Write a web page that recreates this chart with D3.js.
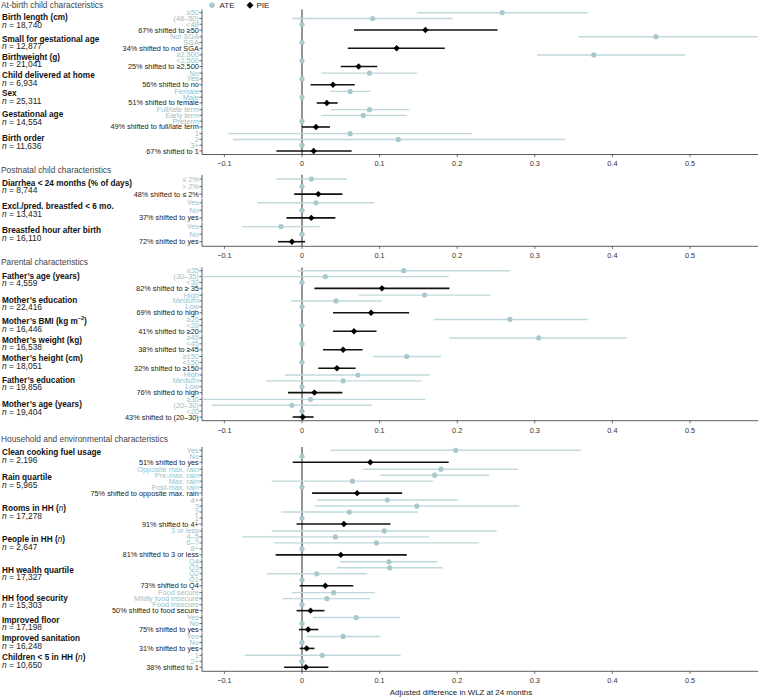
<!DOCTYPE html>
<html><head><meta charset="utf-8">
<script src="https://cdn.jsdelivr.net/npm/d3@7"></script>
<style>body{margin:0;background:#fff}svg{display:block;font-family:"Liberation Sans",Arial,Helvetica,sans-serif}</style>
</head><body><svg id="c" width="758" height="697"></svg>
<script>
// ---------- DATA ----------
const panelTitles = ["At-birth child characteristics","Postnatal child characteristics","Parental characteristics","Household and environmental characteristics"];
const groupPanel = [0,0,0,0,0,0,0, 1,1,1, 2,2,2,2,2,2,2, 3,3,3,3,3,3,3,3,3];
const groupNames = ["Birth length (cm)","Small for gestational age","Birthweight (g)","Child delivered at home","Sex","Gestational age","Birth order",
 "Diarrhea < 24 months (% of days)","Excl./pred. breastfed < 6 mo.","Breastfed hour after birth",
 "Father’s age (years)","Mother’s education","Mother’s BMI (kg m^{−2})","Mother’s weight (kg)","Mother’s height (cm)","Father’s education","Mother’s age (years)",
 "Clean cooking fuel usage","Rain quartile","Rooms in HH ({n})","People in HH ({n})","HH wealth quartile","HH food security","Improved floor","Improved sanitation","Children < 5 in HH ({n})"];
const groupN = ["18,740","12,877","21,041","6,934","25,311","14,554","11,636","8,744","13,431","16,110","4,559","22,416","16,446","16,538","18,051","19,856","19,404","2,196","5,965","17,278","2,647","17,327","15,303","17,198","16,248","10,650"];
const categories = [
 ["≥50","(48–50)","<48"],["Not SGA","SGA"],["≥2,500","<2,500"],["No","Yes"],["Female","Male"],["Full/late term","Early term","Preterm"],["1","2","3+"],
 ["≤ 2%","> 2%"],["Yes","No"],["Yes","No"],
 ["≥35","(30–35)","<30"],["High","Medium","Low"],["≥20","<20"],["≥45","<45"],["≥150","<150"],["High","Medium","Low"],["≥30","(20–30)","<20"],
 ["Yes","No"],["Opposite max. rain","Pre-max. rain","Max. rain","Post-max. rain"],["4+","3","2","1"],["3 or less","4–5","6–7","8+"],["Q4","Q3","Q2","Q1"],["Food secure","Mildly food insecure","Food insecure"],["Yes","No"],["Yes","No"],["1","2+"]];
const ateEst = [
 [0.258,0.091,0],[0.456,0],[0.376,0],[0.087,0],[0.062,0],[0.087,0.079,0],[0.062,0.124,0],
 [0.012,0],[0.018,0],[-0.027,0],
 [0.131,0.030,0],[0.158,0.044,0],[0.268,0],[0.305,0],[0.135,0],[0.072,0.053,0],[0.011,-0.013,0],
 [0.198,0],[0.179,0.171,0.065,0],[0.110,0.148,0.061,0],[0.106,0.043,0.096,0],[0.112,0.113,0.019,0],[0.041,0.032,0],[0.070,0],[0.053,0],[0.026,0]];
const ateLo = [
 [0.148,-0.013,0],[0.356,0],[0.303,0],[0.025,0],[0.036,0],[0.037,0.025,0],[-0.095,-0.089,0],
 [-0.033,0],[-0.058,0],[-0.077,0],
 [-0.006,-0.16,0],[0.073,-0.014,0],[0.170,0],[0.190,0],[0.092,0],[-0.022,-0.046,0],[-0.16,-0.116,0],
 [0.037,0],[0.079,0.101,-0.039,0],[0.019,0.017,-0.027,0],[-0.039,-0.077,-0.036,0],[0.049,0.045,-0.045,0],[-0.013,-0.025,0],[0.014,0],[0.006,0],[-0.074,0]];
const ateHi = [
 [0.368,0.194,0],[0.62,0],[0.494,0],[0.148,0],[0.088,0],[0.138,0.135,0],[0.219,0.339,0],
 [0.058,0],[0.093,0],[0.023,0],
 [0.268,0.189,0],[0.243,0.103,0],[0.368,0],[0.419,0],[0.179,0],[0.165,0.154,0],[0.159,0.090,0],
 [0.359,0],[0.278,0.241,0.169,0],[0.201,0.280,0.149,0],[0.251,0.164,0.228,0],[0.175,0.181,0.084,0],[0.094,0.088,0],[0.126,0],[0.101,0],[0.127,0]];
const pieEst = [0.159,0.122,0.073,0.040,0.032,0.018,0.015, 0.021,0.012,-0.013, 0.103,0.089,0.067,0.053,0.045,0.016,0.001, 0.088,0.071,0.054,0.050,0.030,0.011,0.008,0.006,0.005];
const pieLo  = [0.067,0.059,0.050,0.011,0.019,0.000,-0.033, -0.010,-0.020,-0.031, 0.016,0.040,0.040,0.027,0.021,-0.018,-0.012, -0.012,0.013,-0.007,-0.034,-0.003,-0.007,-0.004,-0.003,-0.023];
const pieHi  = [0.252,0.184,0.097,0.068,0.046,0.036,0.064, 0.052,0.043,0.004, 0.190,0.138,0.096,0.078,0.069,0.052,0.015, 0.189,0.129,0.114,0.135,0.066,0.029,0.021,0.016,0.034];
const shiftLabels = ["67% shifted to ≥50","34% shifted to not SGA","25% shifted to ≥2,500","56% shifted to no","51% shifted to female","49% shifted to full/late term","67% shifted to 1",
 "48% shifted to ≤ 2%","37% shifted to yes","72% shifted to yes",
 "82% shifted to ≥ 35","69% shifted to high","41% shifted to ≥20","38% shifted to ≥45","32% shifted to ≥150","76% shifted to high","43% shifted to (20–30)",
 "51% shifted to yes","75% shifted to opposite max. rain","91% shifted to 4+","81% shifted to 3 or less","73% shifted to Q4","50% shifted to food secure","75% shifted to yes","31% shifted to yes","38% shifted to 1"];
const xTicks = [-0.1,0,0.1,0.2,0.3,0.4,0.5];
const legendItems = ["ATE","PIE"];
const xTitle = "Adjusted difference in WLZ at 24 months";

// ---------- LAYOUT ----------
const W = 758, H = 697, plotL = 202, plotR = 758;
const panelFirst = [12.7,179,270.7,450.3], panelLast = [151,241.7,417,667.3];
const panelAxisY = [154.5,246.3,420.7,671.3];
const panelTitleY = [5,170,261.7,439];
const GAP = 0.15;
const ATEC = "#a8c8cd", ATEL = "#bfd8db", ATET = "#9dc0c6";
const svg = d3.select("#c");
const x = d3.scaleLinear().domain([-0.1,0.5]).range([224.4,690]);

// font calibration: fit sizes to measured widths in the reference
function fit(str, target, weight){
  const t = svg.append("text").attr("font-size","20px").attr("font-weight",weight||"normal").text(str);
  const w = t.node().getComputedTextLength(); t.remove();
  return 20*target/w;
}
const fsHeader = fit("Household and environmental characteristics",167);
const fsBold = (fit("Small for gestational age",98,"bold")+fit("Diarrhea < 24 months (% of days)",131,"bold")+fit("Children < 5 in HH (n)",83,"bold"))/3;
const fsN = fit("n = 18,740",40);
const fsTick = (fit("75% shifted to opposite max. rain",108.5)+fit("49% shifted to full/late term",88.7))/2;
const fsTitle = fit(xTitle,142.7);
const fsLegend = fit("ATE",15);

svg.append("defs").append("clipPath").attr("id","clip").append("rect")
  .attr("x",plotL).attr("y",0).attr("width",plotR-plotL).attr("height",H);

function richText(sel, str){
  const parts = str.split(/(\{n\}|\^\{[^}]*\})/).filter(p=>p);
  let afterSup = false;
  parts.forEach(p=>{
    if(p==="{n}"){ sel.append("tspan").attr("font-style","italic").attr("font-weight","normal").text("n"); }
    else if(p.startsWith("^{")){ sel.append("tspan").attr("font-size",(fsBold*0.65)+"px").attr("dy",-fsBold*0.35).text(p.slice(2,-1)); afterSup=true; return; }
    else { const t = sel.append("tspan").text(p); if(afterSup) t.attr("dy",fsBold*0.35); }
    afterSup=false;
  });
}

// build rows
const rowsByPanel = [[],[],[],[]];
groupNames.forEach((g,gi)=>{
  const p = groupPanel[gi];
  const list = rowsByPanel[p];
  const startIdx = list.length ? list[list.length-1].idx + 1 + GAP : 0;
  categories[gi].forEach((c,ci)=>{
    list.push({g:gi, type:"ATE", label:c, est:ateEst[gi][ci], lo:ateLo[gi][ci], hi:ateHi[gi][ci], idx:startIdx+ci});
  });
  list.push({g:gi, type:"PIE", label:shiftLabels[gi], est:pieEst[gi], lo:pieLo[gi], hi:pieHi[gi], idx:startIdx+categories[gi].length});
});

rowsByPanel.forEach((rows,p)=>{
  const maxIdx = rows[rows.length-1].idx;
  const y = d3.scaleLinear().domain([0,maxIdx]).range([panelFirst[p],panelLast[p]]);
  const u = y(1)-y(0);
  const top = y(0)-0.55*u, bottom = panelAxisY[p];
  const gp = svg.append("g");

  svg.append("text").attr("x",1).attr("y",panelTitleY[p]).attr("dominant-baseline","central")
    .attr("font-size",fsHeader+"px").attr("fill","#444").text(panelTitles[p]);

  gp.append("line").attr("x1",x(0)).attr("x2",x(0)).attr("y1",top).attr("y2",bottom)
    .attr("stroke","#5a5a5a").attr("stroke-width",1.3);

  const gids = [...new Set(rows.map(r=>r.g))];
  gids.forEach((gi,k)=>{
    const gr = rows.filter(r=>r.g===gi);
    const y0 = y(gr[0].idx), y1 = y(gr[gr.length-1].idx);
    const s0 = k===0 ? top : y0-0.52*u;
    const s1 = k===gids.length-1 ? bottom : y1+0.52*u;
    gp.append("line").attr("x1",plotL).attr("x2",plotL).attr("y1",s0).attr("y2",s1).attr("stroke","#333").attr("stroke-width",0.8);
    const c = (y0+y1)/2;
    const t = svg.append("text").attr("x",2).attr("y",c-4).attr("dominant-baseline","central")
      .attr("font-size",fsBold+"px").attr("font-weight","bold").attr("fill","#111");
    richText(t, groupNames[gi]);
    const t2 = svg.append("text").attr("x",2).attr("y",c+3.6).attr("dominant-baseline","central")
      .attr("font-size",fsN+"px").attr("fill","#222");
    t2.append("tspan").attr("font-style","italic").text("n");
    t2.append("tspan").text(" = "+groupN[gi]);
  });

  rows.forEach(r=>{
    const yy = y(r.idx);
    gp.append("line").attr("x1",plotL-2.6).attr("x2",plotL).attr("y1",yy).attr("y2",yy).attr("stroke","#333").attr("stroke-width",0.7);
    svg.append("text").attr("x",plotL-3.2).attr("y",yy).attr("dominant-baseline","central").attr("text-anchor","end")
      .attr("font-size",fsTick+"px").attr("fill", r.type==="ATE"?ATET:"#222").text(r.label);
  });

  const m = svg.append("g").attr("clip-path","url(#clip)");
  rows.forEach(r=>{
    const yy = y(r.idx);
    if(r.type==="ATE"){
      if(r.hi>r.lo) m.append("line").attr("x1",x(r.lo)).attr("x2",x(r.hi)).attr("y1",yy).attr("y2",yy).attr("stroke",ATEL).attr("stroke-width",1.4);
      m.append("circle").attr("cx",x(r.est)).attr("cy",yy).attr("r",2.6).attr("fill",ATEC);
    } else {
      m.append("line").attr("x1",x(r.lo)).attr("x2",x(r.hi)).attr("y1",yy).attr("y2",yy).attr("stroke","#111").attr("stroke-width",1.6);
      m.append("path").attr("d",d3.symbol(d3.symbolDiamond2,26)()).attr("transform",`translate(${x(r.est)},${yy})`).attr("fill","#000");
    }
  });

  const ax = svg.append("g").attr("transform",`translate(0,${panelAxisY[p]})`);
  ax.append("line").attr("x1",plotL).attr("x2",plotR).attr("stroke","#333").attr("stroke-width",0.8);
  xTicks.forEach(v=>{
    ax.append("line").attr("x1",x(v)).attr("x2",x(v)).attr("y1",0).attr("y2",2.6).attr("stroke","#333").attr("stroke-width",0.7);
    ax.append("text").attr("x",x(v)).attr("y",9.4).attr("text-anchor","middle").attr("dominant-baseline","central")
      .attr("font-size",fsTick+"px").attr("fill","#333").text(v===0?"0":d3.format(".1f")(v).replace("-","−"));
  });
});

const lg = svg.append("g");
lg.append("circle").attr("cx",212).attr("cy",5.3).attr("r",2.7).attr("fill",ATEC);
lg.append("text").attr("x",219.5).attr("y",5.3).attr("dominant-baseline","central").attr("font-size",fsLegend+"px").attr("fill","#222").text(legendItems[0]);
lg.append("path").attr("d",d3.symbol(d3.symbolDiamond2,30)()).attr("transform","translate(250,5.3)").attr("fill","#000");
lg.append("text").attr("x",256.5).attr("y",5.3).attr("dominant-baseline","central").attr("font-size",fsLegend+"px").attr("fill","#222").text(legendItems[1]);

svg.append("text").attr("x",461).attr("y",692).attr("text-anchor","middle").attr("dominant-baseline","central")
  .attr("font-size",fsTitle+"px").attr("fill","#222").text(xTitle);
</script></body></html>
